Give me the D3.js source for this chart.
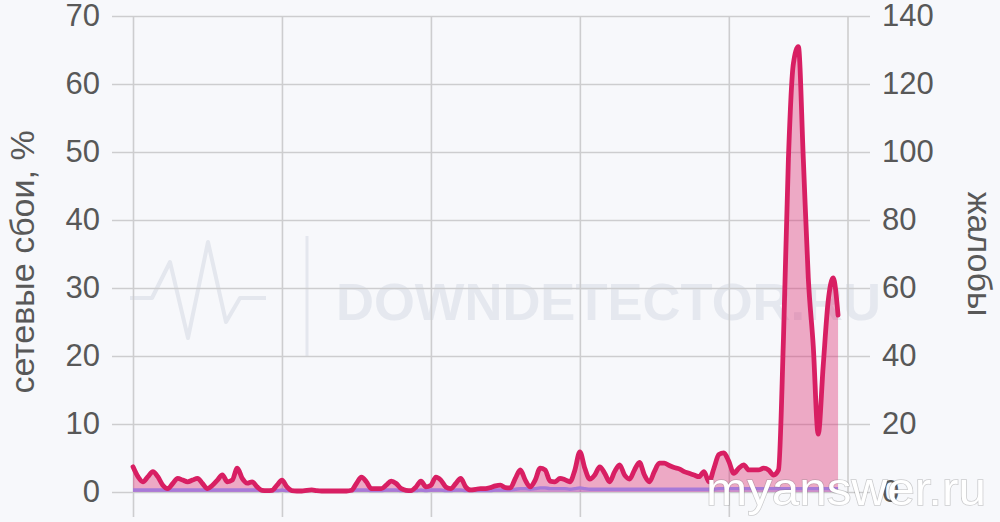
<!DOCTYPE html>
<html>
<head>
<meta charset="utf-8">
<script src="https://cdn.jsdelivr.net/npm/d3@7"></script>
<style>
  html, body { margin: 0; padding: 0; background: #f7f8fb; }
  svg { display: block; }
  text { font-family: "Liberation Sans", Arial, Helvetica, sans-serif; }
</style>
</head>
<body>
<svg id="chart" width="1000" height="522"></svg>
<script>
// ---- data ----
const leftTicks = [0, 10, 20, 30, 40, 50, 60, 70];
const rightTicks = [0, 20, 40, 60, 80, 100, 120, 140];
const xGrid = [0, 30, 60, 90, 120];
const leftTitle = "сетевые сбои, %";
const rightTitle = "жалобы";

// complaints (right axis), one value per time step
const complaints = [
  7.4, 4.5, 3, 4.5, 6, 4.5, 2, 1, 2.5, 4,
  3.5, 3, 3.5, 4, 2.5, 1, 2, 3.5, 5, 3,
  3.5, 7, 4, 2.6, 3, 1.5, 0.5, 0.4, 0.5, 2,
  3.5, 1.5, 0.4, 0.3, 0.3, 0.5, 0.6, 0.4, 0.3, 0.3,
  0.3, 0.3, 0.3, 0.3, 0.5, 2.5, 4.4, 3, 1, 1,
  1, 2, 3.2, 2.5, 1, 0.5, 0.4, 1.5, 3.2, 1.5,
  2, 4.4, 3.5, 1.5, 1, 2.5, 4, 1.5, 0.6, 0.8,
  1, 1, 1.3, 1.8, 2, 1.3, 1.2, 4, 6.5, 3.5,
  1.5, 3.5, 7, 6.5, 3.2, 3, 4, 3.6, 3, 6.5,
  11.8, 7, 3.8, 5, 7.4, 5.5, 3, 6, 8, 5,
  3.8, 6.5, 8.7, 5, 3, 6, 8.5, 8.5, 7.8, 7.2,
  6.8, 6, 5.5, 5, 4.5, 6, 3, 7, 11, 11.5,
  9, 5.5, 7, 8, 6.5, 6.5, 6.5, 7, 6.5, 5,
  6.5, 45, 98, 126, 131, 98, 63, 43, 17, 37,
  56, 63, 52
];

// network outages, % (left axis)
const outages = [
  0.3, 0.3, 0.3, 0.3, 0.3, 0.3, 0.3, 0.3, 0.3, 0.3,
  0.3, 0.3, 0.3, 0.3, 0.3, 0.3, 0.3, 0.3, 0.3, 0.3,
  0.3, 0.3, 0.3, 0.3, 0.3, 0.3, 0.2, 0.2, 0.2, 0.2,
  0.3, 0.2, 0.2, 0.2, 0.2, 0.2, 0.3, 0.2, 0.2, 0.2,
  0.2, 0.2, 0.2, 0.2, 0.2, 0.3, 0.3, 0.3, 0.2, 0.2,
  0.2, 0.3, 0.3, 0.3, 0.2, 0.2, 0.2, 0.2, 0.3, 0.2,
  0.3, 0.3, 0.3, 0.2, 0.2, 0.3, 0.3, 0.2, 0.2, 0.2,
  0.2, 0.2, 0.2, 0.3, 0.3, 0.3, 0.3, 0.4, 0.5, 0.5,
  0.4, 0.5, 0.6, 0.6, 0.5, 0.5, 0.5, 0.5, 0.4, 0.5,
  0.6, 0.5, 0.4, 0.4, 0.4, 0.4, 0.4, 0.4, 0.4, 0.4,
  0.4, 0.4, 0.4, 0.4, 0.4, 0.4, 0.4, 0.4, 0.4, 0.4,
  0.4, 0.4, 0.4, 0.4, 0.4, 0.4, 0.4, 0.4, 0.5, 0.5,
  0.5, 0.5, 0.5, 0.5, 0.5, 0.5, 0.5, 0.5, 0.5, 0.5,
  0.5, 0.5, 0.5, 0.5, 0.5, 0.5, 0.5, 0.5, 0.5, 0.5,
  0.5, 0.5, 0.5
];

// ---- layout ----
const svg = d3.select("#chart");
const plotTop = 16, base = 492, plotL = 133, plotR = 848;
const gridL = 112, gridR = 870, tickBottom = 517;

const x = d3.scaleLinear().domain([0, 144]).range([plotL, plotR]);
const yL = d3.scaleLinear().domain([0, 70]).range([base, plotTop]);
const yR = d3.scaleLinear().domain([0, 140]).range([base, plotTop]);

const textColor = "#585858";
const gridColor = "#cdcdcf";

// ---- watermark (downdetector) ----
const wm = svg.append("g").attr("class", "watermark");
wm.append("path")
  .attr("d", "M130,298 L152,298 L170,262 L188,338 L208,242 L226,322 L240,298 L266,298")
  .attr("fill", "none").attr("stroke", "#e4e7ee").attr("stroke-width", 4)
  .attr("stroke-linejoin", "round");
wm.append("line").attr("x1", 307).attr("x2", 307).attr("y1", 236).attr("y2", 356)
  .attr("stroke", "#e4e7ee").attr("stroke-width", 3);
wm.append("text").attr("x", 336).attr("y", 320)
  .attr("font-size", 52).attr("font-weight", "bold").attr("fill", "#e5e8ef")
  .attr("textLength", 545).attr("lengthAdjust", "spacingAndGlyphs")
  .text("DOWNDETECTOR.RU");

// ---- horizontal grid + left labels ----
const gL = svg.append("g").attr("transform", `translate(${gridL},0)`)
  .call(d3.axisLeft(yL).tickValues(leftTicks).tickSize(-(gridR - gridL)).tickPadding(12));
gL.select(".domain").remove();
gL.selectAll(".tick line").attr("stroke", gridColor).attr("stroke-width", 1.6);
gL.selectAll(".tick text").attr("fill", textColor).attr("font-size", 31)
  .attr("font-family", "'Liberation Sans', Arial, sans-serif");

// ---- right labels ----
const gR = svg.append("g").attr("transform", `translate(${gridR},0)`)
  .call(d3.axisRight(yR).tickValues(rightTicks).tickSize(0).tickPadding(12));
gR.select(".domain").remove();
gR.selectAll(".tick text").attr("fill", textColor).attr("font-size", 31)
  .attr("font-family", "'Liberation Sans', Arial, sans-serif");

// ---- vertical grid ----
const gX = svg.append("g").attr("transform", `translate(0,${tickBottom})`)
  .call(d3.axisBottom(x).tickValues(xGrid).tickSize(-(tickBottom - plotTop)).tickFormat(""));
gX.select(".domain").remove();
gX.selectAll(".tick line").attr("stroke", gridColor).attr("stroke-width", 1.6);
svg.append("line").attr("x1", x(144)).attr("x2", x(144)).attr("y1", plotTop).attr("y2", base)
  .attr("stroke", gridColor).attr("stroke-width", 1.6);

// ---- series ----
const curve = d3.curveMonotoneX;

const outArea = d3.area().x((d, i) => x(i)).y0(yL(0)).y1(d => yL(d)).curve(curve);
const outLine = d3.line().x((d, i) => x(i)).y(d => yL(d)).curve(curve);

const cArea = d3.area().x((d, i) => x(i)).y0(yR(0)).y1(d => yR(d)).curve(curve);
const cLine = d3.line().x((d, i) => x(i)).y(d => yR(d)).curve(curve);

svg.append("path").datum(complaints).attr("d", cArea)
  .attr("fill", "rgba(222, 40, 110, 0.38)");
svg.append("path").datum(outages).attr("d", outArea)
  .attr("fill", "rgba(160, 110, 215, 0.35)");
svg.append("path").datum(outages).attr("d", outLine)
  .attr("fill", "none").attr("stroke", "#a77ad8").attr("stroke-width", 3.4);
svg.append("path").datum(complaints).attr("d", cLine)
  .attr("fill", "none").attr("stroke", "#d81f63").attr("stroke-width", 4.8)
  .attr("stroke-linejoin", "round").attr("stroke-linecap", "round");

// ---- axis titles ----
svg.append("text")
  .attr("transform", `translate(22,${(plotTop + base) / 2 + 8}) rotate(-90)`)
  .attr("text-anchor", "middle").attr("dominant-baseline", "central")
  .attr("font-size", 34).attr("fill", textColor)
  .text(leftTitle);
svg.append("text")
  .attr("transform", `translate(980,${(plotTop + base) / 2}) rotate(90)`)
  .attr("text-anchor", "middle").attr("dominant-baseline", "central")
  .attr("font-size", 34).attr("fill", textColor)
  .text(rightTitle);

// ---- overlay watermark ----
svg.append("text").attr("x", 706).attr("y", 505)
  .attr("font-size", 47).attr("fill", "#ffffff")
  .attr("stroke", "rgba(120,120,120,0.35)").attr("stroke-width", 1.5)
  .attr("paint-order", "stroke")
  .attr("textLength", 280).attr("lengthAdjust", "spacingAndGlyphs")
  .text("myanswer.ru");
</script>
</body>
</html>
